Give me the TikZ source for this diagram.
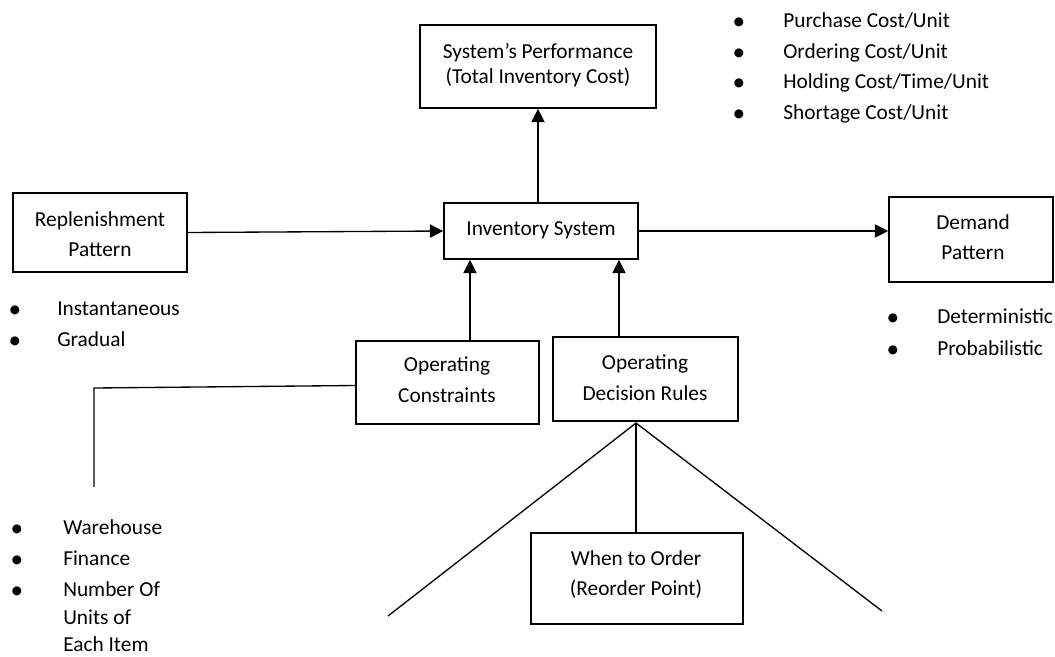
\documentclass[tikz,border=0pt]{standalone}
\usepackage{fontspec}
\setmainfont{Carlito}
\usetikzlibrary{arrows.meta,calc}
\begin{document}
\begin{tikzpicture}[x=0.75pt,y=-0.75pt,
  box/.style={draw,line width=1.3pt,rectangle,inner sep=0pt},
  txt/.style={font=\fontsize{16pt}{19pt}\selectfont,inner sep=0pt,anchor=base},
  ltxt/.style={font=\fontsize{16pt}{19pt}\selectfont,inner sep=0pt,anchor=base west},
  bul/.style={font=\fontsize{19pt}{22pt}\selectfont,inner sep=0pt,anchor=base,yshift=-1.5pt},
  conn/.style={line width=1pt},
  arr/.style={line width=1pt,-{Triangle[length=10pt,width=10pt]}}]
\useasboundingbox (0,0) rectangle (1055,656);
% boxes
\node[box,minimum width=177pt,minimum height=62.25pt] (sp) at (538,66.5) {};
\node[box,minimum width=145.5pt,minimum height=42pt] (inv) at (541,231) {};
\node[box,minimum width=130.5pt,minimum height=59.25pt] (rep) at (100,232.5) {};
\node[box,minimum width=123pt,minimum height=63.75pt] (dem) at (971,239.5) {};
\node[box,minimum width=137.25pt,minimum height=62.25pt] (oc) at (447.5,382.5) {};
\node[box,minimum width=138.75pt,minimum height=63pt] (odr) at (645.5,379) {};
\node[box,minimum width=159pt,minimum height=68.25pt] (wto) at (637,578.5) {};
% box texts
\node[txt] (sp1) at (538,59) {System’s Performance};
\node[txt] (sp2) at (538,84) {(Total Inventory Cost)};
\node[txt] (inv1) at (541,235) {Inventory System};
\node[txt] (rep1) at (100,226) {Replenishment};
\node[txt] (rep2) at (100,256) {Pattern};
\node[txt] (dem1) at (973,229) {Demand};
\node[txt] (dem2) at (973,259) {Pattern};
\node[txt] (oc1) at (447,371) {Operating};
\node[txt] (oc2) at (447,402) {Constraints};
\node[txt] (odr1) at (645,369) {Operating};
\node[txt] (odr2) at (645,400) {Decision Rules};
\node[txt] (wto1) at (636,565) {When to Order};
\node[txt] (wto2) at (636,595) {(Reorder Point)};
% cost list
\foreach \y/\t [count=\i] in {28/Purchase Cost\slash Unit,59/Ordering Cost\slash Unit,89/Holding Cost\slash Time\slash Unit,120/Shortage Cost\slash Unit}{
  \node[bul] (cb\i) at (739,\y) {\textbullet};
  \node[ltxt] (ct\i) at (783,\y) {\t};
}
% replenishment list
\foreach \y/\t [count=\i] in {315/Instantaneous,346/Gradual}{
  \node[bul] (rb\i) at (15,\y) {\textbullet};
  \node[ltxt] (rt\i) at (57,\y) {\t};
}
% demand list
\foreach \y/\t [count=\i] in {323/Deterministic,355/Probabilistic}{
  \node[bul] (db\i) at (893,\y) {\textbullet};
  \node[ltxt] (dt\i) at (937,\y) {\t};
}
% constraint list
\foreach \y/\t [count=\i] in {534/Warehouse,565/Finance,596/Number Of}{
  \node[bul] (kb\i) at (17,\y) {\textbullet};
  \node[ltxt] (kt\i) at (63,\y) {\t};
}
\node[ltxt] (kt4) at (63,624) {Units of};
\node[ltxt] (kt5) at (63,651) {Each Item};
% connectors
\draw[arr] (sp.south |- inv.north) -- (sp.south);
\draw[arr] (rep.east) -- (inv.west);
\draw[arr] (inv.east) -- (dem.west |- inv.east);
\coordinate (ocTop) at ($(oc.north)+(22.5,0)$);
\draw[arr] (ocTop) -- (ocTop |- inv.south);
\coordinate (odrTop) at ($(odr.north)+(-26.5,0)$);
\draw[arr] (odrTop) -- (odrTop |- inv.south);
\coordinate (ocL) at ($(oc.west)+(0,3)$);
\coordinate (cCorner) at (94,388);
\coordinate (cEnd) at (94,487);
\draw[conn] (ocL) -- (cCorner) -- (cEnd);
\coordinate (apex) at (636,423);
\coordinate (leftEnd) at (388,616);
\coordinate (rightEnd) at (882,611);
\draw[conn] (leftEnd) -- (apex) -- (rightEnd);
\draw[conn] (apex) -- (apex |- wto.north);
\end{tikzpicture}
\end{document}
